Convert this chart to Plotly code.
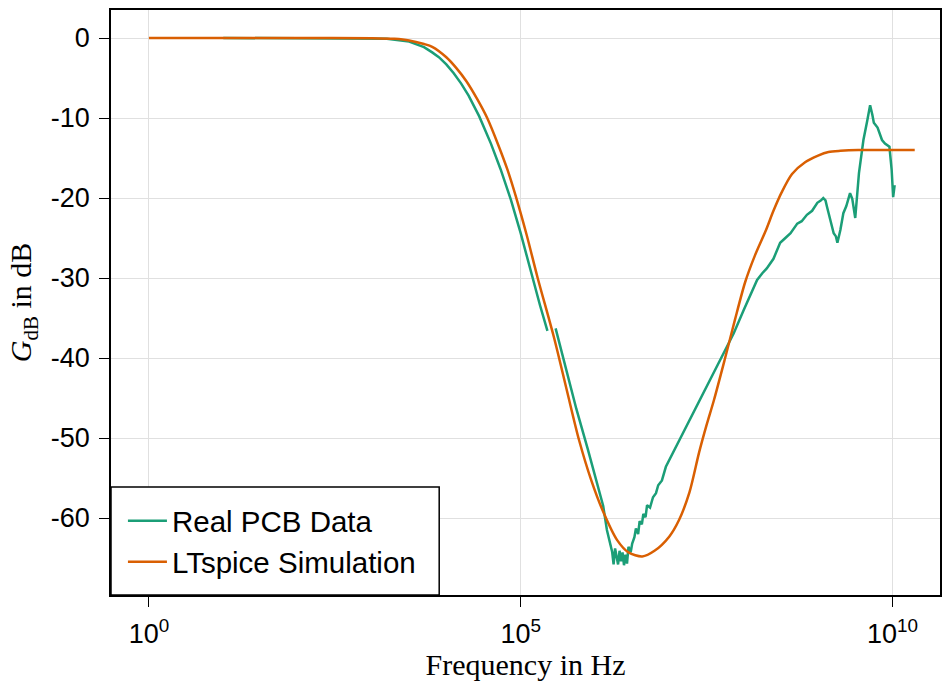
import plotly.graph_objects as go

# LTspice simulation: log10(frequency) and gain in dB
sim_logf = [0.0, 1.0, 2.0, 3.0, 3.3, 3.5, 3.7, 3.81, 4.0, 4.13, 4.27, 4.42, 4.55, 4.7, 4.82, 4.935, 5.08,
            5.226, 5.45, 5.62, 5.785, 5.95, 6.1, 6.3, 6.45, 6.635, 6.8, 7.0, 7.13, 7.27, 7.4, 7.5, 7.6,
            7.75, 7.88, 8.02, 8.15, 8.3, 8.4, 8.51, 8.65, 8.83, 9.0, 9.14, 9.3, 9.54, 10.0, 10.3]
sim_db = [0.0, 0.0, 0.0, -0.02, -0.1, -0.3, -0.75, -1.1, -2.4, -3.7, -5.4, -7.7, -10.0, -13.4, -16.4, -19.8, -24.6,
          -29.9, -37.5, -44.0, -50.25, -55.3, -59.0, -62.8, -64.3, -64.8, -64.1, -62.3, -60.25, -56.8, -51.8, -48.4, -45.25,
          -40.0, -35.3, -30.5, -27.2, -24.0, -21.6, -19.3, -17.0, -15.5, -14.7, -14.25, -14.1, -14.0, -14.0, -14.0]

# Real PCB measurement (None = gap in measurement)
pcb_logf = [1.0, 2.0, 3.0, 3.2, 3.5, 3.7, 3.81, 3.9, 4.0, 4.1, 4.2, 4.3, 4.443, 4.6, 4.73, 4.868, 5.0, 5.16, 5.26, 5.36, None,
            5.47, 5.6, 5.75, 5.9, 6.05, 6.11, 6.16, 6.2, 6.23, 6.25, 6.27, 6.29, 6.31, 6.33, 6.35, 6.37, 6.39, 6.41,
            6.43, 6.45, 6.48, 6.5, 6.53, 6.55, 6.58, 6.6, 6.63, 6.65, 6.68, 6.7, 6.74, 6.78, 6.82, 6.85, 6.9,
            6.953, 7.1, 7.25, 7.4, 7.55, 7.7, 7.866, 8.0, 8.18, 8.25, 8.31, 8.4, 8.49, 8.56, 8.63, 8.72, 8.78, 8.85,
            8.92, 8.99, 9.04, 9.07, 9.1, 9.12, 9.17, 9.21, 9.24, 9.26, 9.3, 9.34, 9.38, 9.43, 9.46, 9.5,
            9.55, 9.61, 9.66, 9.7, 9.73, 9.75, 9.8, 9.86, 9.9, 9.93, 9.96, 9.99, 10.01, 10.03]
pcb_db = [0.0, 0.0, -0.03, -0.08, -0.45, -1.15, -1.8, -2.4, -3.3, -4.4, -5.7, -7.2, -9.8, -13.2, -16.4, -20.2, -24.4, -30.0, -33.4, -36.6, None,
          -36.3, -41.0, -46.4, -51.3, -56.3, -58.5, -61.5, -63.0, -64.2, -65.8, -63.8, -64.8, -65.8, -64.1, -65.4, -64.3, -65.9, -64.6,
          -65.7, -63.6, -64.3, -63.2, -62.4, -61.3, -62.0, -60.4, -60.8, -59.5, -59.9, -58.4, -58.7, -57.4, -56.9, -55.9, -55.3,
          -53.6, -50.9, -48.2, -45.4, -42.7, -39.9, -36.9, -34.0, -30.25, -29.4, -28.8, -27.6, -25.6, -25.0, -24.4, -23.2, -22.9, -22.1,
          -21.6, -20.6, -20.3, -20.0, -20.3, -21.1, -22.8, -24.4, -24.8, -25.6, -24.0, -21.9, -21.0, -19.4, -20.1, -22.5,
          -16.9, -12.75, -10.4, -8.4, -9.6, -10.6, -11.2, -12.75, -13.2, -13.4, -13.6, -16.5, -19.9, -18.4]

GREEN = "#1b9e77"
ORANGE = "#d95f02"

sim_f = [10 ** v for v in sim_logf]
pcb_f = [None if v is None else 10 ** v for v in pcb_logf]

fig = go.Figure()
fig.add_trace(go.Scatter(x=pcb_f, y=pcb_db, mode="lines", name="Real PCB Data", legend="legend",
                         line=dict(color=GREEN, width=2.5), connectgaps=False))
fig.add_trace(go.Scatter(x=sim_f, y=sim_db, mode="lines", name="LTspice Simulation", legend="legend2",
                         line=dict(color=ORANGE, width=2.5, shape="spline", smoothing=0.8)))

tick_font = dict(family="Liberation Sans, Arial, sans-serif", size=27, color="black")
title_font = dict(family="Liberation Serif, Times New Roman, serif", size=30, color="black")
legend_font = dict(family="Liberation Sans, Arial, sans-serif", size=29.5, color="black")

legend_common = dict(xanchor="left", yanchor="middle", x=0.0144, borderwidth=0,
                     bgcolor="rgba(0,0,0,0)", font=legend_font, itemwidth=39)

fig.update_layout(
    width=943, height=681,
    margin=dict(l=111, r=1, t=10, b=86),
    plot_bgcolor="white", paper_bgcolor="white",
    showlegend=True,
    legend=dict(y=0.1265, **legend_common),
    legend2=dict(y=0.0564, **legend_common),
    shapes=[dict(type="rect", xref="paper", yref="paper", x0=0, x1=0.3959, y0=0, y1=0.1846,
                 line=dict(color="black", width=1.5), fillcolor="white", layer="above")],
)
fig.update_xaxes(type="log", range=[-0.51, 10.64],
                 tickvals=[1, 1e5, 1e10],
                 ticktext=["10<sup>0</sup>", "10<sup>5</sup>", "10<sup>10</sup>"],
                 tickfont=tick_font, ticks="outside", ticklen=10, tickcolor="black", tickwidth=1,
                 ticklabelstandoff=4,
                 showgrid=True, gridcolor="#e0e0e0", gridwidth=1,
                 showline=True, linecolor="black", linewidth=1.5, mirror=True,
                 zeroline=False,
                 title=dict(text="Frequency in Hz", font=title_font, standoff=10))
fig.update_yaxes(range=[-69.625, 3.5],
                 tickvals=[0, -10, -20, -30, -40, -50, -60],
                 ticktext=["0", "-10", "-20", "-30", "-40", "-50", "-60"],
                 tickfont=tick_font, ticks="outside", ticklen=10, tickcolor="black", tickwidth=1,
                 ticklabelstandoff=4,
                 showgrid=True, gridcolor="#e0e0e0", gridwidth=1,
                 showline=True, linecolor="black", linewidth=1.5, mirror=True,
                 zeroline=False,
                 title=dict(text="<i>G</i><sub>dB</sub> in dB", font=title_font, standoff=10))

fig.write_html("out.html")
